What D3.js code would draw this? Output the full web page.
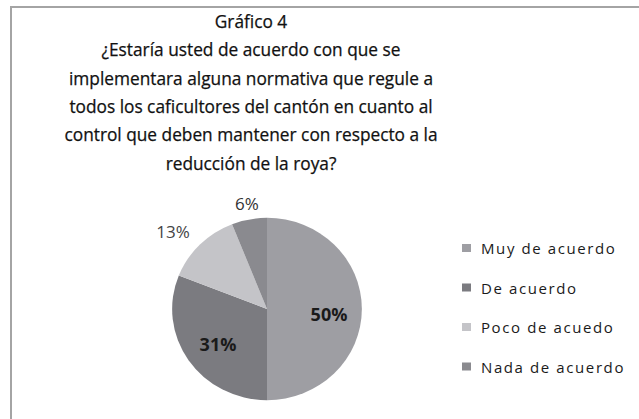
<!DOCTYPE html>
<html><head><meta charset="utf-8">
<script src="https://cdn.jsdelivr.net/npm/d3@7"></script>
<style>body{margin:0;background:#fff}svg{display:block}</style>
</head><body>
<svg id="c" width="639" height="419"></svg>
<script>
const titleLines = ["Gráfico 4","¿Estaría usted de acuerdo con que se","implementara alguna normativa que regule a","todos los caficultores del cantón en cuanto al","control que deben mantener con respecto a la","reducción  de la roya?"];
const categories = ["Muy de acuerdo","De acuerdo","Poco de acuedo","Nada de acuerdo"];
const values = [50,31,13,6];
const labels = ["50%","31%","13%","6%"];
const colors = ["#9e9ea3","#7b7b80","#c4c4c8","#8a8a8f"];

const svg = d3.select("#c");
svg.append("rect").attr("width",639).attr("height",419).attr("fill","#fff");
svg.append("path").attr("d","M11,419 V7 H639").attr("fill","none").attr("stroke","#a4a4a4").attr("stroke-width",2);

const font = "'Open Sans', 'DejaVu Sans', sans-serif";
svg.append("g").selectAll("text").data(titleLines).join("text")
  .attr("x",251).attr("y",(d,i)=>28+i*28.3)
  .attr("text-anchor","middle").attr("font-family",font).attr("font-size",17.3)
  .attr("fill","#111").attr("stroke","#111").attr("stroke-width",0.25).text(d=>d);

const cx=267, cy=309, r=93;
const pie = d3.pie().sort(null).value(d=>d)(values);
const arc = d3.arc().innerRadius(0).outerRadius(r);
const g = svg.append("g").attr("transform",`translate(${cx},${cy}) scale(1.02,0.98)`);
g.selectAll("path").data(pie).join("path").attr("d",arc).attr("fill",(d,i)=>colors[i]);

const lblPos = [[62,5],[-49,35],[-94,-78],[-20,-106]];
const lblStyle = [{w:"bold",s:18,c:"#1a1a1a"},{w:"bold",s:18,c:"#1a1a1a"},{w:"normal",s:17,c:"#444"},{w:"normal",s:17,c:"#333"}];
svg.append("g").selectAll("text").data(labels).join("text")
  .attr("x",(d,i)=>cx+lblPos[i][0]).attr("y",(d,i)=>cy+lblPos[i][1])
  .attr("text-anchor","middle").attr("dominant-baseline","central")
  .attr("font-family",font).attr("font-weight",(d,i)=>lblStyle[i].w)
  .attr("font-size",(d,i)=>lblStyle[i].s).attr("fill",(d,i)=>lblStyle[i].c).text(d=>d);

const leg = svg.append("g").selectAll("g").data(categories).join("g")
  .attr("transform",(d,i)=>`translate(462,${248+i*39.5})`);
leg.append("rect").attr("x",0).attr("y",-4).attr("width",9).attr("height",8).attr("fill",(d,i)=>colors[i]);
leg.append("text").attr("x",19).attr("y",0).attr("dominant-baseline","central")
  .attr("font-family",font).attr("font-size",15).attr("letter-spacing",1.6).attr("fill","#1a1a1a").text(d=>d);
</script>
</body></html>
